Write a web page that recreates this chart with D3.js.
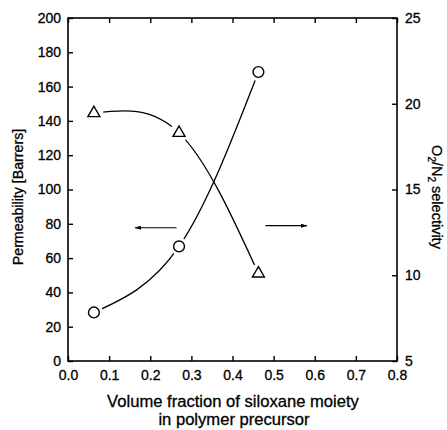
<!DOCTYPE html>
<html>
<head>
<meta charset="utf-8">
<script src="https://cdn.jsdelivr.net/npm/d3@7"></script>
<style>
  html, body { margin: 0; padding: 0; background: #fff; }
  svg { display: block; font-family: "Liberation Sans", Arial, sans-serif; }
  text { fill: #000; stroke: #000; stroke-width: 0.3px; }
</style>
</head>
<body>
<svg id="chart" width="447" height="430"></svg>
<script>
// ---- data ----
const volumeFraction = [0.063, 0.27, 0.463];
const permeability = [28.3, 66.8, 168.5];      // circles, left axis (Barrers)
const selectivity = [19.45, 18.3, 10.1];        // triangles, right axis (O2/N2)
const xTicks = [0.0, 0.1, 0.2, 0.3, 0.4, 0.5, 0.6, 0.7, 0.8];
const yLeftTicks = [0, 20, 40, 60, 80, 100, 120, 140, 160, 180, 200];
const yRightTicks = [5, 10, 15, 20, 25];
// annotation arrows: [xStart, xEnd, yValue]
const leftArrow = [0.264, 0.163, 77.7];   // points left, in permeability units
const rightArrow = [0.48, 0.581, 12.89];  // points right, in selectivity units

// ---- layout ----
const svg = d3.select("#chart");
const L = 68, R = 397, T = 18, B = 361;
const x = d3.scaleLinear().domain([0, 0.8]).range([L, R]);
const yL = d3.scaleLinear().domain([0, 200]).range([B, T]);
const yR = d3.scaleLinear().domain([5, 25]).range([B, T]);

const tickFont = 14;
const ff = "Liberation Sans, Arial, sans-serif";

// frame
svg.append("rect").attr("x", L).attr("y", T).attr("width", R - L).attr("height", B - T)
  .attr("fill", "none").attr("stroke", "#000").attr("stroke-width", 1.6);

// axes (ticks inward)
const gB = svg.append("g").attr("transform", `translate(0,${B})`)
  .call(d3.axisTop(x).tickValues(xTicks).tickSize(5).tickFormat(d3.format(".1f")));
gB.select(".domain").remove();
gB.selectAll("text").attr("y", 9.5).attr("dy", "0.71em").attr("font-size", tickFont)
  .attr("font-family", ff);

const gT = svg.append("g").attr("transform", `translate(0,${T})`)
  .call(d3.axisBottom(x).tickValues(xTicks).tickSize(5).tickFormat(""));
gT.select(".domain").remove();

const gL = svg.append("g").attr("transform", `translate(${L},0)`)
  .call(d3.axisRight(yL).tickValues(yLeftTicks).tickSize(5));
gL.select(".domain").remove();
gL.selectAll("text").attr("x", -7).attr("text-anchor", "end").attr("font-size", tickFont)
  .attr("font-family", ff);

const gR = svg.append("g").attr("transform", `translate(${R},0)`)
  .call(d3.axisLeft(yR).tickValues(yRightTicks).tickSize(5));
gR.select(".domain").remove();
gR.selectAll("text").attr("x", 8).attr("text-anchor", "start").attr("font-size", tickFont)
  .attr("font-family", ff);

svg.selectAll(".tick line").attr("stroke", "#000").attr("stroke-width", 1.4);
svg.selectAll(".tick text").attr("fill", "#000");

// curves
const permPts = volumeFraction.map((v, i) => [x(v), yL(permeability[i])]);
const selPts = volumeFraction.map((v, i) => [x(v), yR(selectivity[i])]);
const line = d3.line().curve(d3.curveNatural);

svg.append("path").attr("d", line(permPts)).attr("fill", "none")
  .attr("stroke", "#000").attr("stroke-width", 1.3);
svg.append("path").attr("d", line(selPts)).attr("fill", "none")
  .attr("stroke", "#000").attr("stroke-width", 1.3);

// markers with white halo (gap between line and marker)
const tri = d3.symbol().type(d3.symbolTriangle).size(62);
svg.selectAll(".haloC").data(permPts).join("circle")
  .attr("cx", d => d[0]).attr("cy", d => d[1]).attr("r", 9).attr("fill", "#fff");
svg.selectAll(".haloT").data(selPts).join("circle")
  .attr("cx", d => d[0]).attr("cy", d => d[1]).attr("r", 9.5).attr("fill", "#fff");
svg.selectAll(".mc").data(permPts).join("circle")
  .attr("cx", d => d[0]).attr("cy", d => d[1]).attr("r", 5.4)
  .attr("fill", "#fff").attr("stroke", "#000").attr("stroke-width", 1.4);
svg.selectAll(".mt").data(selPts).join("path")
  .attr("d", tri).attr("transform", d => `translate(${d[0]},${d[1]})`)
  .attr("fill", "#fff").attr("stroke", "#000").attr("stroke-width", 1.4);

// arrows
const defs = svg.append("defs");
defs.append("marker").attr("id", "ah").attr("viewBox", "0 0 10 6")
  .attr("refX", 9).attr("refY", 3).attr("markerWidth", 7).attr("markerHeight", 4)
  .attr("markerUnits", "userSpaceOnUse").attr("orient", "auto")
  .append("path").attr("d", "M0,0 L10,3 L0,6 Z").attr("fill", "#000");

svg.append("line").attr("x1", x(leftArrow[0])).attr("x2", x(leftArrow[1]))
  .attr("y1", yL(leftArrow[2])).attr("y2", yL(leftArrow[2]))
  .attr("stroke", "#000").attr("stroke-width", 1.2).attr("marker-end", "url(#ah)");
svg.append("line").attr("x1", x(rightArrow[0])).attr("x2", x(rightArrow[1]))
  .attr("y1", yR(rightArrow[2])).attr("y2", yR(rightArrow[2]))
  .attr("stroke", "#000").attr("stroke-width", 1.2).attr("marker-end", "url(#ah)");

// axis titles
svg.append("text").attr("transform", "translate(23,197) rotate(-90)")
  .attr("text-anchor", "middle").attr("font-size", 14.2).text("Permeability [Barrers]");

const rt = svg.append("text").attr("transform", "translate(432,197) rotate(90)")
  .attr("text-anchor", "middle").attr("font-size", 14.5);
rt.append("tspan").text("O");
rt.append("tspan").text("2").attr("font-size", 10).attr("dy", 4);
rt.append("tspan").text("/N").attr("dy", -4);
rt.append("tspan").text("2").attr("font-size", 10).attr("dy", 4);
rt.append("tspan").text(" selectivity").attr("dy", -4);

svg.append("text").attr("x", 233).attr("y", 407).attr("text-anchor", "middle")
  .attr("font-size", 16.6).text("Volume fraction of siloxane moiety");
svg.append("text").attr("x", 234).attr("y", 425).attr("text-anchor", "middle")
  .attr("font-size", 16.6).text("in polymer precursor");
</script>
</body>
</html>
